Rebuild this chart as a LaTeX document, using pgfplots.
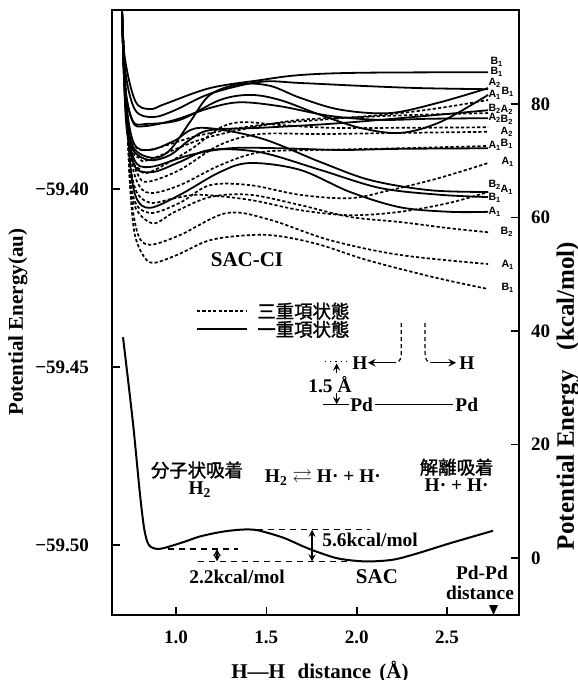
\documentclass[border=0pt]{standalone}
\usepackage{amssymb}
\usepackage{fontspec}
\setmainfont{Liberation Serif}
\newfontfamily\jp{Noto Sans CJK JP}[AutoFakeBold=1.5]
\newfontfamily\lab{Liberation Sans}
\usepackage{pgfplots}
\pgfplotsset{compat=1.18}

\begin{document}
\begin{tikzpicture}
\useasboundingbox (-56pt,-32.5pt) rectangle (233pt,307.5pt);
\pgfplotsset{
  panel/.style={width=203.5pt, height=302.5pt, scale only axis,
    at={(0pt,0pt)}, anchor=south west, xmin=0.646, xmax=2.898,
    axis line style={line width=1pt}, major tick length=4pt,
    tick style={line width=0.8pt, black}, tick align=inside,
    tick label style={font=\fontsize{9.5}{11}\selectfont\bfseries}},
}
\tikzset{
  sing/.style={black, line width=0.9pt, smooth, tension=0.55},
  trip/.style={black, line width=0.85pt, smooth, tension=0.55, dash pattern=on 1.6pt off 1.1pt},
  lbl/.style={font=\lab\bfseries\fontsize{5.3}{6}\selectfont, inner sep=0pt},
  txt/.style={font=\fontsize{9.7}{11}\selectfont\bfseries, inner sep=0pt},
  jtxt/.style={font=\jp\bfseries\fontsize{9.2}{11}\selectfont, inner sep=0pt},
  refdash/.style={black, line width=0.6pt, dash pattern=on 3pt off 2.5pt},
}
% energy in atomic units (left scale)
\begin{axis}[panel, ymin=-59.5196, ymax=-59.3497,
  xtick={1,1.5,2,2.5}, xticklabels={1.0,1.5,2.0,2.5},
  ytick={-59.50,-59.45,-59.40}, yticklabels={−59.50,−59.45,−59.40},
  xtick pos=left, ytick pos=left,
  yticklabel style={xshift=-8pt}, xticklabel style={yshift=-4.5pt}]
\end{axis}
% energy in kcal/mol (right scale), all curves
\begin{axis}[panel, ymin=-10.04, ymax=96.56, xtick=\empty,
  ytick={0,20,40,60,80}, yticklabels={0,20,40,60,80},
  ytick pos=right, yticklabel pos=right, yticklabel style={xshift=2.5pt},
  clip mode=individual]

% --- SAC-CI singlet states
\addplot[sing] coordinates {(0.700,98) (0.716,88.4) (0.775,80.5) (0.856,79.1) (0.939,80.0) (1.188,82.8) (1.465,84.2) (1.686,85.1) (2.018,85.5) (2.727,85.6)};
\addplot[sing] coordinates {(0.700,98) (0.718,86.2) (0.773,79.0) (0.873,77.7) (0.994,78.9) (1.188,81.8) (1.465,83.9) (1.686,83.7) (2.018,83.2) (2.350,82.8) (2.727,82.6)};
\addplot[sing] coordinates {(0.700,98) (0.723,80) (0.762,72.5) (0.873,70.5) (0.967,71.9) (1.077,76.8) (1.188,81.6) (1.354,83.5) (1.520,83.2) (1.686,81.1) (1.908,79.0) (2.184,78.4) (2.461,80.3) (2.727,82.8)};
\addplot[sing] coordinates {(0.700,98) (0.718,83.5) (0.762,77.0) (0.840,76.5) (1.022,77.2) (1.243,80.7) (1.410,81.6) (1.576,80.7) (1.797,78.1) (2.018,75.8) (2.240,74.9) (2.461,76.8) (2.727,81.6)};
\addplot[sing] coordinates {(0.700,98) (0.723,77.2) (0.762,71.9) (0.856,70.1) (0.967,71.0) (1.077,73.7) (1.188,75.4) (1.465,75.8) (1.852,76.5) (2.240,77.5) (2.727,78.9)};
\addplot[sing] coordinates {(0.700,98) (0.718,83.2) (0.762,76.8) (0.828,76.1) (0.994,77.2) (1.188,79.3) (1.354,80.3) (1.576,79.6) (1.852,77.9) (2.129,77.2) (2.406,77.4) (2.727,77.5)};
\addplot[sing] coordinates {(0.700,98) (0.720,80) (0.765,70.5) (0.856,68.9) (1.077,71.0) (1.299,72.2) (1.576,72.2) (1.908,71.9) (2.240,72.1) (2.727,72.2)};
\addplot[sing] coordinates {(0.700,98) (0.720,82) (0.765,73.2) (0.856,71.9) (0.990,73.5) (1.133,75.8) (1.465,74.0) (1.797,69.8) (2.074,66.6) (2.406,64.8) (2.727,64.5)};
\addplot[sing] coordinates {(0.700,98) (0.720,80) (0.765,69.5) (0.867,68.0) (1.022,69.8) (1.188,71.9) (1.465,71.5) (1.797,68.4) (2.129,65.2) (2.461,64.0) (2.727,63.6)};
\addplot[sing] coordinates {(0.700,98) (0.718,84) (0.745,70) (0.780,63.5) (0.856,61.7) (1.022,64.0) (1.243,68.0) (1.410,69.6) (1.686,68.4) (1.963,64.5) (2.240,61.8) (2.516,61.0) (2.727,61.0)};

% --- SAC-CI triplet states
\addplot[trip] coordinates {(0.700,97) (0.718,84.2) (0.734,73.7) (0.751,63.1) (0.773,56.9) (0.817,53.4) (0.873,52.0) (1.006,53.4) (1.188,56.0) (1.410,56.9) (1.576,56.7) (1.797,55.2) (2.057,52.5) (2.422,49.5) (2.727,47.4)};
\addplot[trip] coordinates {(0.700,97) (0.718,84) (0.734,74) (0.751,64) (0.790,57) (0.856,55.2) (1.022,56.9) (1.282,60.8) (1.520,59.6) (1.852,56.0) (2.240,53.4) (2.727,51.8)};
\addplot[trip] coordinates {(0.700,97) (0.718,84) (0.734,74) (0.760,63) (0.867,59.0) (0.994,61.0) (1.188,63.6) (1.410,64.0) (1.686,62.2) (1.963,60.1) (2.240,59.2) (2.516,58.1) (2.727,57.4)};
\addplot[trip] coordinates {(0.700,97) (0.718,84) (0.734,74) (0.765,63.5) (0.856,60.8) (1.022,62.6) (1.188,65.7) (1.410,65.7) (1.686,64.0) (1.963,63.4) (2.184,64.8) (2.461,67.0) (2.727,69.6)};
\addplot[trip] coordinates {(0.700,97) (0.718,84) (0.740,72) (0.775,65) (0.856,62.6) (0.994,63.4) (1.133,64.0) (1.410,63.1) (1.686,61.3) (1.963,60.4) (2.240,61.0) (2.516,62.6) (2.727,64.5)};
\addplot[trip] coordinates {(0.700,97) (0.718,84) (0.745,72) (0.785,66.3) (0.856,64.3) (1.022,65.7) (1.243,69.2) (1.465,71.5) (1.797,71.9) (2.240,72.2) (2.727,72.6)};
\addplot[trip] coordinates {(0.700,97) (0.718,84) (0.750,72) (0.790,67.5) (0.845,66.3) (1.022,68.4) (1.243,72.8) (1.465,74.7) (1.797,74.7) (2.240,74.9) (2.727,75.1)};
\addplot[trip] coordinates {(0.700,97) (0.718,84) (0.755,71) (0.800,68.5) (0.856,68.0) (1.077,71.9) (1.243,75.8) (1.371,76.8) (1.576,76.3) (1.852,75.8) (2.240,75.8) (2.727,75.9)};
\addplot[trip] coordinates {(0.700,97) (0.718,82) (0.760,72) (0.800,70.5) (0.845,70.1) (1.133,73.7) (1.410,75.8) (1.686,77.2) (2.018,77.7) (2.350,78.1) (2.727,78.4)};
\addplot[trip] coordinates {(0.700,97) (0.718,82) (0.760,73.5) (0.845,71.9) (1.133,74.5) (1.465,76.3) (1.797,77.2) (2.184,78.2) (2.461,79.3) (2.727,80.7)};

% --- SAC ground state
\addplot[black, line width=1pt, smooth, tension=0.5] coordinates {(0.707,38.9) (0.762,23.8) (0.800,11.5) (0.825,5.0) (0.850,2.3) (0.895,1.6) (0.950,1.9) (1.05,2.9) (1.133,3.8) (1.25,4.6) (1.36,5.0) (1.45,4.9) (1.592,3.6) (1.70,2.1) (1.780,1.1) (1.90,-0.1) (2.05,-0.6) (2.20,-0.3) (2.334,0.8) (2.516,2.6) (2.754,4.8)};

% barrier and well depth markers
\draw[refdash] (1.448,5.0) -- (2.074,5.0);
\draw[refdash] (0.956,1.6) -- (1.343,1.6);
\draw[refdash] (1.122,-0.6) -- (1.963,-0.6);
\draw[line width=0.6pt, <->, >=stealth] (1.227,1.6) -- (1.227,-0.6);
\draw[line width=0.6pt, <->, >=stealth] (1.753,5.0) -- (1.753,-0.6);
\node[txt, anchor=west] at (1.808,3.2) {5.6kcal/mol};
\node[txt] at (1.338,-3.35) {2.2kcal/mol};
\node[txt, font=\fontsize{10.5}{12}\selectfont\bfseries] at (2.112,-3.35) {SAC};
\node[txt] at (2.693,-2.6) {Pd-Pd};
\node[txt] at (2.682,-6.2) {distance};
\fill (2.757,-10.04) -- ([xshift=-2.2pt]2.757,-8.3) -- ([xshift=2.2pt]2.757,-8.3) -- cycle;

% state symmetry labels
\node[lbl] at (2.776,87.4) {B\textsubscript{1}};
\node[lbl] at (2.776,85.6) {B\textsubscript{1}};
\node[lbl] at (2.765,83.7) {A\textsubscript{2}};
\node[lbl] at (2.837,82.1) {B\textsubscript{1}};
\node[lbl] at (2.765,81.6) {A\textsubscript{1}};
\node[lbl] at (2.765,79.2) {B\textsubscript{2}};
\node[lbl] at (2.832,78.9) {A\textsubscript{2}};
\node[lbl] at (2.765,77.5) {A\textsubscript{2}};
\node[lbl] at (2.832,77.2) {B\textsubscript{2}};
\node[lbl] at (2.832,75.1) {A\textsubscript{2}};
\node[lbl] at (2.765,72.6) {A\textsubscript{1}};
\node[lbl] at (2.832,72.9) {B\textsubscript{1}};
\node[lbl] at (2.837,69.8) {A\textsubscript{1}};
\node[lbl] at (2.765,65.7) {B\textsubscript{2}};
\node[lbl] at (2.832,64.8) {A\textsubscript{1}};
\node[lbl] at (2.765,63.4) {B\textsubscript{1}};
\node[lbl] at (2.765,61.0) {A\textsubscript{1}};
\node[lbl] at (2.832,57.4) {B\textsubscript{2}};
\node[lbl] at (2.837,51.6) {A\textsubscript{1}};
\node[lbl] at (2.837,47.6) {B\textsubscript{1}};

\node[txt, font=\fontsize{10.5}{12}\selectfont\bfseries] at (1.393,52.5) {SAC-CI};

% line style key
\draw[black, line width=0.85pt, dash pattern=on 1.6pt off 1.1pt] (1.116,43.5) -- (1.393,43.5);
\draw[black, line width=0.9pt] (1.116,40.3) -- (1.393,40.3);
\node[jtxt, anchor=west] at (1.448,43.5) {三重項状態};
\node[jtxt, anchor=west] at (1.448,40.3) {一重項状態};

% H2 on the Pd2 model
\draw[line width=0.6pt, dash pattern=on 2pt off 1.5pt] (2.247,41.4) -- (2.247,36.3) to[out=-90,in=0] (2.215,34.4);
\draw[line width=0.7pt, -stealth] (2.215,34.4) -- (2.062,34.4);
\node[txt] at (2.018,34.4) {H};
\draw[line width=0.6pt, dash pattern=on 2pt off 1.5pt] (2.378,41.4) -- (2.378,36.3) to[out=-90,in=180] (2.410,34.4);
\draw[line width=0.7pt, -stealth] (2.410,34.4) -- (2.550,34.4);
\node[txt] at (2.610,34.4) {H};
\draw[line width=0.6pt, dotted] (1.825,34.6) -- (1.952,34.6);
\draw[line width=0.6pt, -stealth] (1.889,32.6) -- (1.889,34.3);
\node[txt] at (1.852,30.5) {1.5 Å};
\draw[line width=0.6pt, -stealth] (1.889,29.0) -- (1.889,27.1);
\draw[line width=0.7pt] (1.815,27.0) -- (1.960,27.0);
\node[txt] at (2.027,27.0) {Pd};
\draw[line width=0.7pt] (2.101,27.0) -- (2.533,27.0);
\node[txt] at (2.609,27.0) {Pd};

% adsorption regimes
\node[jtxt] at (1.116,15.5) {分子状吸着};
\node[txt] at (1.133,12.0) {H\textsubscript{2}};
\node[txt] at (1.813,14.1) {H\textsubscript{2} $\rightleftarrows$ H· + H·};
\node[jtxt] at (2.553,16.0) {解離吸着};
\node[txt] at (2.553,12.9) {H· + H·};

% axis titles
\node[font=\fontsize{10.5}{12}\selectfont\bfseries, rotate=90] at (rel axis cs:-0.231,0.484) {Potential Energy(au)};
\node[font=\fontsize{12.5}{14}\selectfont\bfseries, rotate=90] at (rel axis cs:1.12,0.362) {Potential Energy\hspace{0.8em}(kcal/mol)};
\node[font=\fontsize{10.5}{12}\selectfont\bfseries] at (rel axis cs:0.511,-0.094) {H—H\hspace{0.6em}distance\hspace{0.4em}(Å)};
\end{axis}
\end{tikzpicture}
\end{document}
